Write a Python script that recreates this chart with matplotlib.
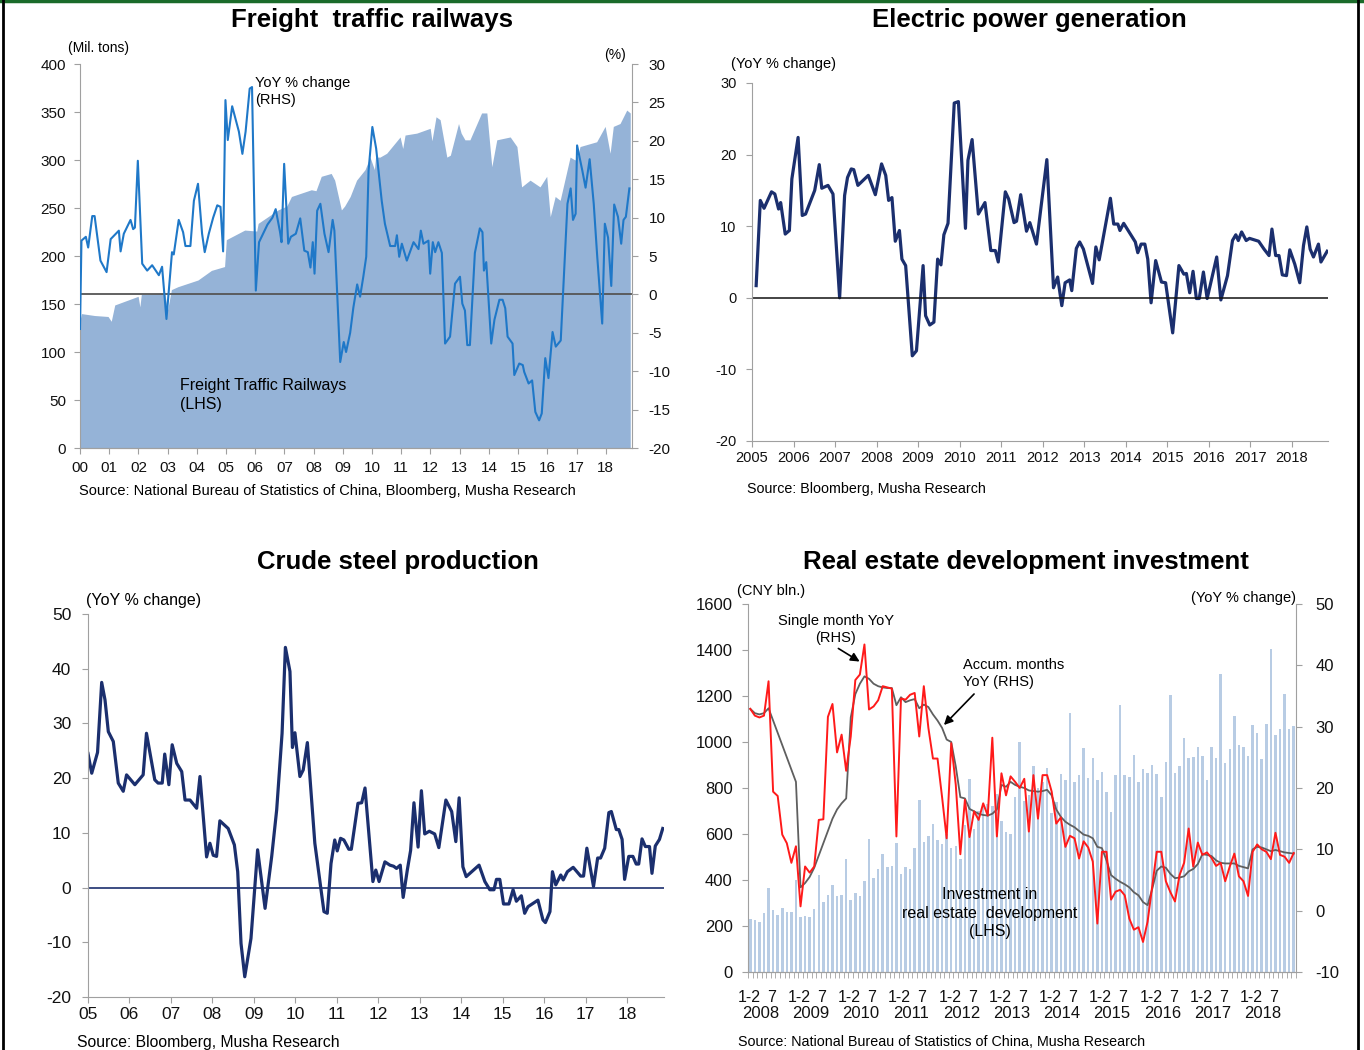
import numpy as np
import matplotlib
matplotlib.use("Agg")
import matplotlib.pyplot as plt
from matplotlib.lines import Line2D

plt.rcParams['font.family'] = ['Liberation Sans', 'DejaVu Sans']
plt.rcParams['axes.unicode_minus'] = False

W, H = 1364, 1050

# ---------------- data: freight traffic railways ----------------
freight_x = [2000.0, 2000.05, 2000.5, 2000.96, 2001.07, 2001.19, 2001.99, 2002.05, 2002.1, 2002.9,
             2003.0, 2003.13, 2003.35, 2004.04, 2004.5, 2004.95, 2005.01, 2005.64, 2006.05, 2006.1,
             2006.78, 2007.08, 2007.24, 2007.92, 2008.08, 2008.26, 2008.6, 2008.72, 2008.95, 2009.06,
             2009.25, 2009.47, 2009.76, 2009.93, 2010.08, 2010.12, 2010.27, 2010.5, 2010.96, 2011.05,
             2011.13, 2011.53, 2011.99, 2012.05, 2012.19, 2012.33, 2012.56, 2012.68, 2012.96, 2013.05,
             2013.18, 2013.35, 2013.75, 2013.93, 2014.1, 2014.27, 2014.73, 2014.96, 2015.12, 2015.41,
             2015.75, 2015.98, 2016.1, 2016.27, 2016.44, 2016.78, 2016.95, 2017.05, 2017.12, 2017.69,
             2017.98, 2018.15, 2018.26, 2018.49, 2018.72, 2018.84]
freight_vol = [133, 140, 138, 137, 132, 149, 158, 147, 160, 161,
               144, 165, 168, 175, 185, 189, 217, 227, 226, 234,
               248, 252, 262, 269, 268, 283, 286, 279, 248, 252,
               262, 279, 290, 303, 290, 303, 303, 307, 324, 312,
               326, 328, 333, 320, 345, 342, 303, 305, 338, 328,
               321, 321, 349, 349, 293, 321, 324, 314, 272, 279,
               272, 283, 241, 262, 258, 303, 300, 305, 314, 319,
               335, 307, 335, 338, 352, 349]

freight_yoy_x = [2000.0, 2000.05, 2000.2, 2000.28, 2000.42, 2000.5, 2000.7, 2000.91, 2001.05, 2001.33,
                 2001.39, 2001.5, 2001.73, 2001.82, 2001.88, 2001.98, 2002.13, 2002.3, 2002.47, 2002.7,
                 2002.81, 2002.96, 2003.15, 2003.21, 2003.38, 2003.53, 2003.61, 2003.78, 2003.9, 2004.04,
                 2004.18, 2004.27, 2004.41, 2004.56, 2004.7, 2004.81, 2004.9, 2004.98, 2005.06, 2005.21,
                 2005.44, 2005.56, 2005.67, 2005.81, 2005.89, 2006.02, 2006.13, 2006.42, 2006.59, 2006.7,
                 2006.85, 2006.9, 2006.99, 2007.13, 2007.22, 2007.39, 2007.54, 2007.68, 2007.8, 2007.89,
                 2007.97, 2008.03, 2008.12, 2008.23, 2008.37, 2008.51, 2008.65, 2008.71, 2008.91, 2009.03,
                 2009.11, 2009.25, 2009.36, 2009.49, 2009.59, 2009.7, 2009.8, 2009.88, 2010.01, 2010.14,
                 2010.33, 2010.44, 2010.62, 2010.79, 2010.85, 2010.93, 2011.02, 2011.19, 2011.42, 2011.59,
                 2011.67, 2011.76, 2011.93, 2011.99, 2012.08, 2012.16, 2012.27, 2012.39, 2012.5, 2012.67,
                 2012.84, 2013.01, 2013.09, 2013.18, 2013.26, 2013.35, 2013.52, 2013.69, 2013.78, 2013.83,
                 2013.91, 2014.08, 2014.19, 2014.36, 2014.47, 2014.56, 2014.64, 2014.81, 2014.87, 2015.04,
                 2015.16, 2015.21, 2015.36, 2015.48, 2015.59, 2015.72, 2015.81, 2015.93, 2016.04, 2016.18,
                 2016.29, 2016.46, 2016.69, 2016.8, 2016.88, 2016.97, 2017.02, 2017.2, 2017.31, 2017.45,
                 2017.59, 2017.71, 2017.88, 2017.97, 2018.08, 2018.19, 2018.29, 2018.42, 2018.53, 2018.61,
                 2018.69, 2018.81]
freight_yoy = [-4.5, 7.0, 7.5, 6.1, 10.2, 10.2, 4.4, 2.9, 7.2, 8.3,
               5.6, 7.9, 9.7, 8.5, 8.7, 17.4, 4.0, 3.1, 3.8, 2.5,
               3.6, -3.2, 5.5, 5.2, 9.7, 8.1, 6.3, 6.3, 12.2, 14.4,
               7.9, 5.5, 7.9, 10.0, 11.6, 11.4, 5.6, 25.3, 20.1, 24.5,
               21.2, 18.3, 21.2, 26.8, 27.0, 0.5, 6.8, 9.1, 10.0, 11.1,
               8.1, 6.8, 17.0, 6.6, 7.5, 7.9, 9.9, 5.7, 5.5, 3.5,
               6.8, 2.7, 10.9, 11.8, 7.9, 5.5, 9.7, 8.3, -8.8, -6.2,
               -7.5, -5.0, -1.7, 1.3, -0.3, 2.3, 4.9, 16.1, 21.8, 19.0,
               12.2, 9.2, 6.3, 6.3, 7.7, 4.9, 6.6, 4.4, 6.8, 5.9,
               8.3, 6.6, 7.0, 2.7, 6.8, 5.5, 6.8, 5.4, -6.4, -5.5,
               1.4, 2.3, -1.2, -2.1, -6.6, -6.6, 5.4, 8.6, 8.1, 3.1,
               4.2, -6.4, -3.3, -0.7, -0.7, -1.8, -5.5, -6.4, -10.5, -9.0,
               -9.2, -10.1, -11.6, -11.2, -15.3, -16.4, -15.5, -8.3, -10.9, -4.9,
               -6.8, -6.0, 11.8, 13.8, 9.7, 10.5, 19.4, 16.1, 13.9, 17.6,
               11.8, 4.9, -3.8, 9.2, 7.4, 1.1, 11.7, 10.1, 6.6, 9.7,
               10.1, 13.8]

# ---------------- data: electric power generation ----------------
elec_x = [2005.10, 2005.2, 2005.29, 2005.47, 2005.55, 2005.64, 2005.69, 2005.8, 2005.9, 2005.96,
          2006.11, 2006.21, 2006.29, 2006.51, 2006.62, 2006.68, 2006.83, 2006.95, 2007.11, 2007.23,
          2007.3, 2007.39, 2007.45, 2007.55, 2007.8, 2007.97, 2008.12, 2008.22, 2008.29, 2008.37,
          2008.45, 2008.55, 2008.61, 2008.7, 2008.86, 2008.96, 2009.12, 2009.18, 2009.28, 2009.38,
          2009.47, 2009.55, 2009.62, 2009.72, 2009.87, 2009.97, 2010.14, 2010.2, 2010.3, 2010.45,
          2010.61, 2010.75, 2010.86, 2010.93, 2011.1, 2011.18, 2011.31, 2011.37, 2011.47, 2011.61,
          2011.69, 2011.85, 2012.1, 2012.26, 2012.36, 2012.46, 2012.54, 2012.65, 2012.7, 2012.81,
          2012.89, 2012.98, 2013.2, 2013.28, 2013.36, 2013.63, 2013.71, 2013.81, 2013.86, 2013.95,
          2014.23, 2014.29, 2014.37, 2014.46, 2014.53, 2014.61, 2014.72, 2014.86, 2014.96, 2015.13,
          2015.28, 2015.4, 2015.46, 2015.54, 2015.62, 2015.7, 2015.77, 2015.87, 2015.96, 2016.19,
          2016.29, 2016.45, 2016.57, 2016.65, 2016.71, 2016.79, 2016.9, 2016.98, 2017.2, 2017.33,
          2017.45, 2017.52, 2017.61, 2017.69, 2017.77, 2017.87, 2017.95, 2018.07, 2018.19, 2018.28,
          2018.36, 2018.44, 2018.52, 2018.64, 2018.7, 2018.85]
elec_yoy = [1.7, 13.6, 12.5, 14.8, 14.5, 12.4, 13.3, 8.9, 9.4, 16.6,
            22.4, 11.5, 11.7, 15.0, 18.6, 15.3, 15.7, 14.5, 0.0, 14.3,
            16.8, 18.0, 17.9, 15.7, 17.1, 14.4, 18.7, 17.1, 13.6, 14.0,
            7.9, 9.4, 5.4, 4.5, -8.1, -7.4, 4.5, -2.5, -3.8, -3.4,
            5.4, 4.6, 8.8, 10.4, 27.2, 27.4, 9.7, 19.2, 22.1, 11.7,
            13.3, 6.6, 6.6, 5.0, 14.8, 13.8, 10.5, 10.7, 14.4, 9.3,
            10.5, 7.5, 19.3, 1.4, 2.9, -1.1, 2.1, 2.5, 1.0, 6.9,
            7.8, 6.8, 2.0, 7.1, 5.3, 13.9, 10.3, 10.3, 9.4, 10.4,
            7.8, 6.3, 7.5, 7.5, 5.4, -0.7, 5.2, 2.2, 2.1, -4.9,
            4.5, 3.3, 3.4, 0.7, 3.7, -0.1, -0.1, 3.6, -0.1, 5.7,
            -0.3, 3.1, 8.0, 8.8, 8.0, 9.2, 8.0, 8.3, 7.9, 6.8,
            5.9, 9.6, 5.9, 5.9, 3.2, 3.1, 6.7, 4.7, 2.1, 7.3,
            9.9, 6.8, 5.7, 7.5, 5.0, 6.5]

# ---------------- data: crude steel production ----------------
steel_x = [2005.0, 2005.09, 2005.23, 2005.33, 2005.41, 2005.49, 2005.61, 2005.73, 2005.85, 2005.93,
           2006.13, 2006.33, 2006.41, 2006.61, 2006.69, 2006.79, 2006.85, 2006.95, 2007.03, 2007.14,
           2007.26, 2007.34, 2007.46, 2007.62, 2007.7, 2007.86, 2007.94, 2008.02, 2008.1, 2008.18,
           2008.38, 2008.53, 2008.61, 2008.69, 2008.78, 2008.93, 2009.09, 2009.27, 2009.43, 2009.55,
           2009.68, 2009.76, 2009.87, 2009.93, 2009.99, 2010.11, 2010.19, 2010.29, 2010.47, 2010.69,
           2010.77, 2010.86, 2010.95, 2011.01, 2011.09, 2011.17, 2011.29, 2011.35, 2011.51, 2011.6,
           2011.68, 2011.87, 2011.94, 2012.02, 2012.16, 2012.28, 2012.37, 2012.44, 2012.53, 2012.6,
           2012.7, 2012.78, 2012.86, 2012.96, 2013.04, 2013.12, 2013.23, 2013.36, 2013.46, 2013.63,
           2013.77, 2013.87, 2013.95, 2014.04, 2014.12, 2014.43, 2014.57, 2014.69, 2014.79, 2014.85,
           2014.93, 2015.02, 2015.15, 2015.25, 2015.33, 2015.45, 2015.53, 2015.61, 2015.85, 2015.97,
           2016.03, 2016.14, 2016.2, 2016.28, 2016.4, 2016.46, 2016.56, 2016.7, 2016.88, 2016.95,
           2017.03, 2017.19, 2017.29, 2017.36, 2017.46, 2017.56, 2017.62, 2017.74, 2017.8, 2017.88,
           2017.94, 2018.04, 2018.14, 2018.22, 2018.28, 2018.36, 2018.44, 2018.54, 2018.6, 2018.68,
           2018.78, 2018.86]
steel_yoy = [24.5, 20.9, 24.7, 37.5, 34.3, 28.5, 26.7, 19.1, 17.6, 20.6,
             18.8, 20.6, 28.2, 19.7, 19.1, 19.1, 24.4, 18.8, 26.1, 22.7,
             21.2, 16.0, 16.0, 14.5, 20.3, 5.6, 8.1, 5.9, 5.7, 12.2,
             10.8, 7.8, 2.9, -10.2, -16.3, -9.3, 6.9, -3.8, 5.7, 14.2,
             28.2, 43.9, 39.5, 25.6, 28.3, 20.3, 21.5, 26.5, 8.1, -4.4,
             -4.7, 4.4, 8.7, 6.7, 9.0, 8.7, 7.0, 7.0, 15.4, 15.5,
             18.2, 1.1, 3.2, 1.1, 4.7, 4.1, 3.9, 3.5, 4.1, -1.8,
             3.2, 6.8, 15.5, 7.4, 17.7, 9.8, 10.3, 9.8, 7.3, 16.0,
             13.9, 8.4, 16.4, 3.8, 2.0, 4.1, 1.1, -0.4, -0.4, 1.5,
             1.5, -3.0, -3.0, -0.4, -2.5, -1.5, -4.7, -3.5, -2.3, -5.9,
             -6.4, -4.4, 2.9, 0.5, 2.3, 1.4, 2.9, 3.7, 2.1, 2.1,
             7.2, 0.2, 5.4, 5.4, 7.2, 13.7, 13.9, 10.6, 10.6, 8.8,
             1.5, 5.7, 5.7, 4.3, 4.3, 8.9, 7.5, 7.5, 2.6, 7.6,
             8.8, 10.8]

# ---------------- data: real estate development investment ----------------
re_years = ['2008', '2009', '2010', '2011', '2012', '2013', '2014', '2015', '2016', '2017', '2018']
re_invest = [230, 226, 219, 255, 365, 268, 250, 280, 262, 262, 400,
             240, 245, 240, 275, 420, 305, 335, 378, 330, 335, 492,
             312, 342, 330, 395, 580, 408, 450, 515, 458, 462, 560,
             428, 455, 450, 540, 750, 565, 590, 642, 572, 555, 600,
             540, 548, 492, 640, 840, 620, 700, 730, 730, 720, 775,
             655, 610, 600, 762, 1000, 745, 770, 895, 800, 825, 885,
             690, 740, 860, 835, 1125, 828, 857, 972, 842, 929, 835,
             871, 784, 697, 857, 1161, 857, 846, 943, 825, 883, 864,
             900, 859, 762, 914, 1204, 867, 896, 1016, 929, 936, 980,
             939, 835, 980, 929, 1296, 910, 968, 1113, 987, 980, 939,
             1074, 1041, 925, 1077, 1404, 1030, 1058, 1207, 1058, 1070]
re_single = [32.9, 31.8, 31.5, 31.8, 37.4, 19.4, 18.7, 12.4, 11.0, 7.8, 10.5,
             0.7, 7.2, 6.2, 7.2, 14.8, 14.9, 31.6, 33.7, 25.8, 28.7, 22.8,
             28.4, 37.6, 38.5, 43.4, 32.8, 33.3, 34.3, 36.6, 36.4, 36.2, 12.1,
             34.6, 34.4, 35.2, 35.5, 28.4, 36.6, 29.8, 24.8, 24.8, 18.5, 11.8,
             27.3, 20.5, 9.2, 18.1, 12.0, 16.2, 14.8, 17.5, 15.5, 28.2, 12.1,
             22.4, 18.8, 21.9, 21.0, 20.0, 21.5, 12.9, 22.1, 15.0, 22.1, 22.1,
             19.4, 14.2, 15.2, 10.4, 12.2, 11.8, 8.5, 11.3, 10.3, 8.0, -2.1,
             9.6, 9.6, 1.8, 3.1, 3.4, 2.5, -1.3, -3.1, -2.7, -5.1, -1.8,
             3.9, 9.6, 9.6, 4.8, 3.0, 1.5, 5.8, 7.8, 13.4, 7.2, 11.1,
             9.1, 9.5, 8.6, 7.3, 7.8, 4.8, 7.2, 9.3, 5.6, 4.8, 2.4,
             9.6, 10.8, 10.0, 9.6, 8.4, 12.7, 9.1, 8.8, 7.8, 9.4]
re_accum = [32.9, 32.2, 32.0, 32.2, 33.0, 31.0, 29.0, 27.0, 25.0, 23.0, 21.0,
            3.8, 4.5, 5.5, 7.0, 9.0, 11.0, 13.0, 15.0, 16.5, 17.5, 18.3,
            31.5, 35.3, 37.0, 38.2, 37.8, 37.0, 36.6, 36.4, 36.3, 36.3, 33.5,
            34.8, 34.0, 34.3, 34.5, 33.0, 33.6, 33.2, 32.0, 31.0, 29.8, 27.9,
            27.5, 23.5, 18.5, 18.3, 16.6, 16.2, 15.8, 15.6, 15.5, 15.8, 16.5,
            20.5, 20.2, 21.0, 20.5, 20.2, 20.0, 19.6, 19.5, 19.4, 19.5, 19.7,
            18.8, 16.5, 15.3, 14.5, 14.0, 13.6, 13.0, 12.4, 12.2, 11.8, 10.4,
            10.2, 8.2, 5.8, 5.2, 4.7, 4.3, 3.8, 3.0, 2.5, 1.4, 0.9,
            3.5, 6.5, 7.2, 7.0, 6.0, 5.3, 5.4, 5.6, 6.4, 6.8, 7.6,
            9.2, 9.1, 8.9, 8.2, 7.8, 7.7, 7.7, 7.7, 7.3, 7.1, 6.9,
            10.0, 10.4, 10.3, 10.0, 9.7, 9.9, 9.7, 9.5, 9.4, 9.3]

SPINE = '#a0a0a0'
NAVY = '#1b2f6e'


def box(l, t, r, b):
    return [l / W, 1 - b / H, (r - l) / W, (b - t) / H]


def ftext(x, y, s, **kw):
    kw.setdefault('va', 'center')
    fig.text(x / W, 1 - y / H, s, **kw)


def style(ax, size):
    for side in ['left', 'right', 'bottom', 'top']:
        ax.spines[side].set_color(SPINE)
    ax.spines['top'].set_visible(False)
    ax.tick_params(colors=SPINE, labelcolor='#111111', labelsize=size,
                   length=4, direction='out')


fig = plt.figure(figsize=(W / 100, H / 100), dpi=100)

# ======== Panel 1: Freight traffic railways ========
ax1 = fig.add_axes(box(80, 64, 632, 448))
ax1.fill_between(freight_x, freight_vol, 0, color='#95b3d7', lw=0)
ax1.set_xlim(2000, 2018.9)
ax1.set_ylim(0, 400)
ax1.set_yticks(range(0, 401, 50))
ax1.set_xticks(range(2000, 2019))
ax1.set_xticklabels(['%02d' % (y - 2000) for y in range(2000, 2019)])
style(ax1, 11)
ax1.spines['right'].set_visible(False)
ax1.tick_params(axis='y', pad=6)
ax1.tick_params(axis='x', pad=5)

ax1r = ax1.twinx()
ax1r.set_ylim(-20, 30)
ax1r.set_yticks(range(-20, 31, 5))
style(ax1r, 11)
ax1r.spines['left'].set_visible(False)
ax1r.tick_params(axis='y', pad=8)
ax1r.axhline(0, color='#555555', lw=1.3, zorder=2)
ax1r.plot(freight_yoy_x, freight_yoy, color='#1f78c8', lw=1.5, zorder=3)

ftext(372, 20, 'Freight  traffic railways', ha='center', fontsize=18.5, fontweight='bold')
ftext(68, 48, '(Mil. tons)', fontsize=10)
ftext(604, 55, '(%)', fontsize=10)
ftext(255, 76, 'YoY % change\n(RHS)', va='top', fontsize=10.5, linespacing=1.25)
ftext(180, 378, 'Freight Traffic Railways\n(LHS)', va='top', fontsize=11.5, linespacing=1.35)
ftext(79, 491, 'Source: National Bureau of Statistics of China, Bloomberg, Musha Research', fontsize=10.5)

# ======== Panel 2: Electric power generation ========
ax2 = fig.add_axes(box(752, 83, 1328, 441))
ax2.plot(elec_x, elec_yoy, color=NAVY, lw=2.3)
ax2.axhline(0, color='#111111', lw=1.1)
ax2.set_xlim(2005, 2018.87)
ax2.set_ylim(-20, 30)
ax2.set_yticks(range(-20, 31, 10))
ax2.set_xticks(range(2005, 2019))
ax2.set_xticklabels([str(y) for y in range(2005, 2019)])
style(ax2, 10.5)
ax2.spines['right'].set_visible(False)
ax2.tick_params(axis='y', pad=7)

ftext(1029, 20, 'Electric power generation', ha='center', fontsize=18.5, fontweight='bold')
ftext(731, 64, '(YoY % change)', fontsize=10.5)
ftext(747, 489, 'Source: Bloomberg, Musha Research', fontsize=10.3)

# ======== Panel 3: Crude steel production ========
ax3 = fig.add_axes(box(88, 614, 664, 997))
ax3.plot(steel_x, steel_yoy, color=NAVY, lw=2.3)
ax3.axhline(0, color=NAVY, lw=1.2)
ax3.set_xlim(2005, 2018.89)
ax3.set_ylim(-20, 50)
ax3.set_yticks(range(-20, 51, 10))
ax3.set_xticks(range(2005, 2019))
ax3.set_xticklabels(['%02d' % (y - 2000) for y in range(2005, 2019)])
style(ax3, 12.5)
ax3.spines['right'].set_visible(False)
ax3.tick_params(axis='y', pad=8)

ftext(398, 562, 'Crude steel production', ha='center', fontsize=18.5, fontweight='bold')
ftext(86, 601, '(YoY % change)', fontsize=11.5)
ftext(77, 1042, 'Source: Bloomberg, Musha Research', fontsize=11.3)

# ======== Panel 4: Real estate development investment ========
idx = np.arange(len(re_invest))
ax4 = fig.add_axes(box(748, 604, 1296, 972))
ax4.bar(idx, re_invest, width=0.55, color='#b8cce4', lw=0)
ax4.set_xlim(-0.5, len(re_invest) - 0.5)
ax4.set_ylim(0, 1600)
ax4.set_yticks(range(0, 1601, 200))
style(ax4, 12)
ax4.spines['right'].set_visible(False)
ax4.tick_params(axis='y', pad=7)
lab_pos, lab_txt = [], []
for k in range(len(re_years)):
    lab_pos += [11 * k - 0.3, 11 * k + 4.6]
    lab_txt += ['1-2', '7']
ax4.set_xticks(lab_pos)
ax4.set_xticklabels(lab_txt)
ax4.set_xticks(np.arange(-0.5, len(re_invest), 1), minor=True)
ax4.tick_params(axis='x', which='major', length=0, pad=13, labelsize=11.5)
ax4.tick_params(axis='x', which='minor', length=4, color=SPINE)
for k, yr in enumerate(re_years):
    ax4.text(11 * k + 2.2, -0.112, yr, transform=ax4.get_xaxis_transform(),
             ha='center', va='center', fontsize=12, color='#111111')

ax4r = ax4.twinx()
ax4r.set_ylim(-10, 50)
ax4r.set_yticks(range(-10, 51, 10))
style(ax4r, 12)
ax4r.spines['left'].set_visible(False)
ax4r.tick_params(axis='y', pad=10)
ax4r.plot(idx, re_accum, color='#5f5f5f', lw=1.3)
ax4r.plot(idx, re_single, color='#ff1a1a', lw=1.4)

ftext(1026, 562, 'Real estate development investment', ha='center', fontsize=18.5, fontweight='bold')
ftext(737, 591, '(CNY bln.)', fontsize=10.5)
ftext(1296, 598, '(YoY % change)', ha='right', fontsize=10.5)
ftext(836, 614, 'Single month YoY\n(RHS)', ha='center', va='top', fontsize=10.5, linespacing=1.25)
ftext(963, 658, 'Accum. months\nYoY (RHS)', va='top', fontsize=10.5, linespacing=1.25)
ftext(990, 887, 'Investment in\nreal estate  development\n(LHS)', ha='center', va='top',
      fontsize=11.5, linespacing=1.3)
ftext(738, 1042, 'Source: National Bureau of Statistics of China, Musha Research', fontsize=10.3)
ax4r.annotate('', xy=(862, H - 663), xytext=(836, H - 647), xycoords='figure pixels',
              textcoords='figure pixels',
              arrowprops=dict(arrowstyle='-|>', color='black', lw=1.2, mutation_scale=13))
ax4r.annotate('', xy=(942, H - 727), xytext=(976, H - 692), xycoords='figure pixels',
              textcoords='figure pixels',
              arrowprops=dict(arrowstyle='-|>', color='black', lw=1.2, mutation_scale=13))

# frame around the page
fig.add_artist(Line2D([0, 1], [0.999, 0.999], transform=fig.transFigure, color='#1a6b2a', lw=2.5))
fig.add_artist(Line2D([0.0025, 0.0025], [0, 1], transform=fig.transFigure, color='black', lw=2))
fig.add_artist(Line2D([0.9956, 0.9956], [0, 1], transform=fig.transFigure, color='black', lw=2))

fig.savefig('out.png', dpi=100)
